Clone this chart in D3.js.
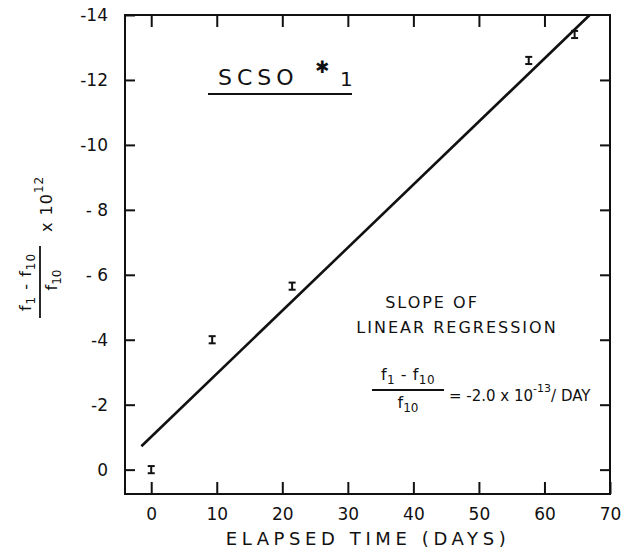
<!DOCTYPE html>
<html>
<head>
<meta charset="utf-8">
<script src="https://cdn.jsdelivr.net/npm/d3@7"></script>
<style>
  body { margin: 0; background: #fff; }
  svg text { font-family: "DejaVu Sans", sans-serif; fill: #111; }
</style>
</head>
<body>
<div id="container"></div>
<script>
const width = 634;
const height = 551;

// measured points (days, fractional shift x 1e12) and their error half-heights
const days = [0, 9.3, 21.5, 57.6, 64.6];
const shift = [0, -4.0, -5.65, -12.6, -13.4];
const err = [0.11, 0.11, 0.11, 0.11, 0.11];

// regression line end points as drawn
const fitDays = [-1.5, 66.9];
const fitShift = [-0.72, -14];

const xTicks = [0, 10, 20, 30, 40, 50, 60, 70];
const yTicks = [0, -2, -4, -6, -8, -10, -12, -14];
const yTickLabels = ["0", "-2", "-4", "- 6", "- 8", "-10", "-12", "-14"];

const plotL = 125, plotR = 610, plotT = 15, plotB = 494;

const x = d3.scaleLinear().domain([-4, 70]).range([plotL, plotR]);
const y = d3.scaleLinear().domain([0.75, -14]).range([plotB, plotT]);

const svg = d3.select("#container").append("svg")
    .attr("width", width)
    .attr("height", height);

// frame
svg.append("rect")
    .attr("x", plotL).attr("y", plotT)
    .attr("width", plotR - plotL).attr("height", plotB - plotT)
    .attr("fill", "none").attr("stroke", "#111").attr("stroke-width", 2);

function styleAxis(g) {
    g.select(".domain").remove();
    g.selectAll(".tick line").attr("stroke", "#111").attr("stroke-width", 2);
    g.selectAll(".tick text").attr("font-size", 17).attr("fill", "#111");
}

svg.append("g")
    .attr("transform", `translate(0,${plotB})`)
    .call(d3.axisBottom(x).tickValues(xTicks).tickSize(-12).tickPadding(14))
    .call(styleAxis);

svg.append("g")
    .attr("transform", `translate(0,${plotT})`)
    .call(d3.axisTop(x).tickValues(xTicks.slice(0, -1)).tickSize(-12).tickFormat(""))
    .call(styleAxis);

svg.append("g")
    .attr("transform", `translate(${plotL},0)`)
    .call(d3.axisLeft(y).tickValues(yTicks).tickSize(-10).tickPadding(17)
        .tickFormat((d, i) => yTickLabels[i]))
    .call(styleAxis);

svg.append("g")
    .attr("transform", `translate(${plotR},0)`)
    .call(d3.axisRight(y).tickValues(yTicks.slice(0, -1)).tickSize(-10).tickFormat(""))
    .call(styleAxis);

// regression line
svg.append("line")
    .attr("x1", x(fitDays[0])).attr("y1", y(fitShift[0]))
    .attr("x2", x(fitDays[1])).attr("y2", y(fitShift[1]))
    .attr("stroke", "#111").attr("stroke-width", 2.6);

// error-bar markers
const pts = days.map((d, i) => ({ d, v: shift[i], e: err[i] }));
const mk = svg.append("g").attr("stroke", "#111").attr("stroke-width", 2);
pts.forEach(p => {
    const cx = x(p.d), y1 = y(p.v + p.e), y2 = y(p.v - p.e);
    mk.append("line").attr("x1", cx).attr("x2", cx).attr("y1", y1).attr("y2", y2);
    mk.append("line").attr("x1", cx - 3.5).attr("x2", cx + 3.5).attr("y1", y1).attr("y2", y1);
    mk.append("line").attr("x1", cx - 3.5).attr("x2", cx + 3.5).attr("y1", y2).attr("y2", y2);
});

// x axis title
svg.append("text")
    .attr("x", 368).attr("y", 545)
    .attr("text-anchor", "middle")
    .attr("font-size", 18).attr("letter-spacing", 4.6)
    .text("ELAPSED TIME (DAYS)");

// y axis title (rotated fraction)
const yl = svg.append("g").attr("transform", "translate(40,282) rotate(-90)");
yl.append("text").attr("x", 0).attr("y", -9).attr("text-anchor", "middle")
    .attr("font-size", 16).attr("letter-spacing", 1)
    .html('f<tspan dy="4" font-size="12">1</tspan><tspan dy="-4"> - f</tspan><tspan dy="4" font-size="12">10</tspan>');
yl.append("line").attr("x1", -36).attr("x2", 36).attr("y1", 0).attr("y2", 0)
    .attr("stroke", "#111").attr("stroke-width", 1.8);
yl.append("text").attr("x", 2).attr("y", 17).attr("text-anchor", "middle")
    .attr("font-size", 16)
    .html('f<tspan dy="4" font-size="12">10</tspan>');
yl.append("text").attr("x", 50).attr("y", 12)
    .attr("font-size", 16).attr("letter-spacing", 1)
    .html('x 10<tspan dy="-9" font-size="12">12</tspan>');

// title
svg.append("text")
    .attr("x", 218).attr("y", 85)
    .attr("font-size", 22).attr("letter-spacing", 5)
    .text("SCSO");
svg.append("text")
    .attr("x", 315).attr("y", 73)
    .attr("font-size", 17).attr("font-weight", "bold")
    .text("\u2731");
svg.append("text")
    .attr("x", 340).attr("y", 86)
    .attr("font-size", 20)
    .text("1");
svg.append("line")
    .attr("x1", 208).attr("x2", 352).attr("y1", 94).attr("y2", 94)
    .attr("stroke", "#111").attr("stroke-width", 2);

// slope annotation
svg.append("text")
    .attr("x", 432).attr("y", 308).attr("text-anchor", "middle")
    .attr("font-size", 16).attr("letter-spacing", 2)
    .text("SLOPE OF");
svg.append("text")
    .attr("x", 457).attr("y", 333).attr("text-anchor", "middle")
    .attr("font-size", 16).attr("letter-spacing", 2)
    .text("LINEAR REGRESSION");

svg.append("text")
    .attr("x", 408).attr("y", 380).attr("text-anchor", "middle")
    .attr("font-size", 16).attr("letter-spacing", 0.5)
    .html('f<tspan dy="4" font-size="12">1</tspan><tspan dy="-4"> - f</tspan><tspan dy="4" font-size="12">10</tspan>');
svg.append("line")
    .attr("x1", 372).attr("x2", 444).attr("y1", 390).attr("y2", 390)
    .attr("stroke", "#111").attr("stroke-width", 1.8);
svg.append("text")
    .attr("x", 408).attr("y", 408).attr("text-anchor", "middle")
    .attr("font-size", 16)
    .html('f<tspan dy="4" font-size="12">10</tspan>');
svg.append("text")
    .attr("x", 449).attr("y", 401)
    .attr("font-size", 15)
    .html('= -2.0 x 10<tspan dy="-9" font-size="11">-13</tspan><tspan dy="9">/ DAY</tspan>');
</script>
</body>
</html>
